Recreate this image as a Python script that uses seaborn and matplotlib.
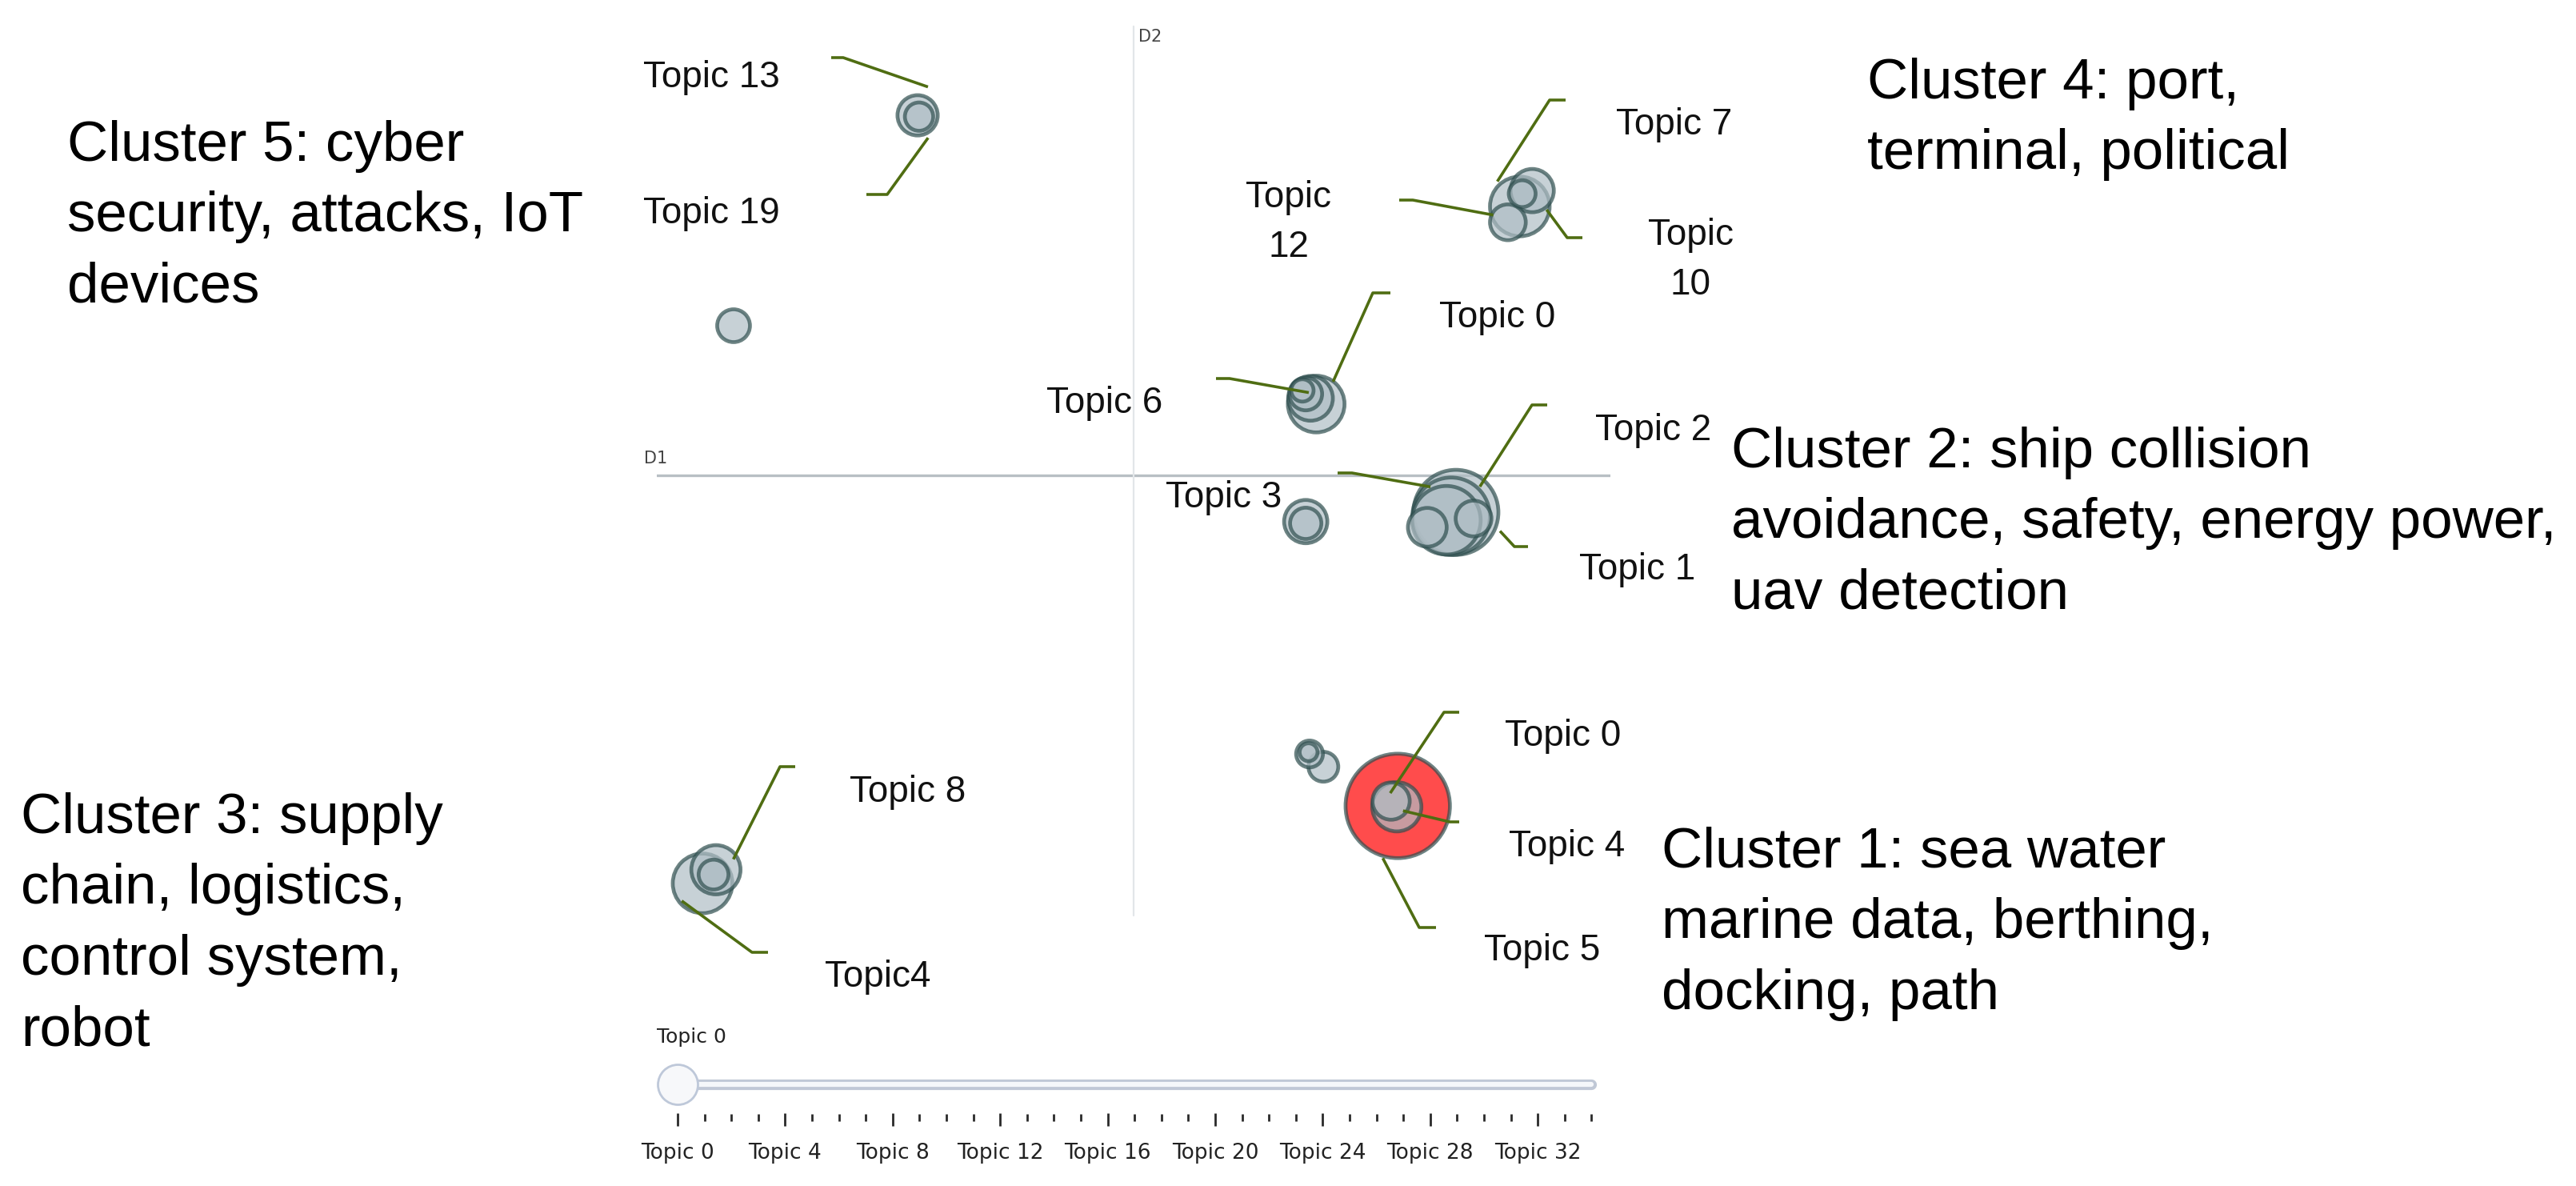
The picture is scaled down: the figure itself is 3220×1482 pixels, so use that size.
import numpy as np
import pandas as pd
import matplotlib.pyplot as plt
import seaborn as sns

# Intertopic distance map (BERTopic style) with cluster notes and topic slider

sns.set_theme(style="white")
plt.rcParams['font.family'] = ['Liberation Sans', 'DejaVu Sans']

# bubbles: position on D1 / D2 and topic size (bubble area)
d1 = [-0.453, -0.450, -0.839,
      0.810, 0.836, 0.785, 0.815,
      0.383, 0.371, 0.361, 0.354,
      0.361, 0.361,
      0.676, 0.666, 0.656, 0.616, 0.713,
      0.369, 0.398, 0.367,
      0.554, 0.552, 0.540,
      -0.904, -0.876, -0.881]
d2 = [0.818, 0.815, 0.340,
      0.611, 0.647, 0.575, 0.640,
      0.162, 0.175, 0.185, 0.193,
      -0.105, -0.109,
      -0.084, -0.093, -0.102, -0.118, -0.098,
      -0.633, -0.662, -0.629,
      -0.751, -0.753, -0.740,
      -0.927, -0.896, -0.907]
topic_size = [729, 361, 484,
              1600, 841, 576, 324,
              1444, 900, 484, 225,
              841, 441,
              3249, 2704, 2116, 676, 576,
              324, 400, 144,
              4900, 1089, 625,
              1600, 1089, 400]
is_selected = [False] * 21 + [True] + [False] * 5

# topic labels and the bubble each leader points to
label_text = ["Topic 13", "Topic 19", "Topic 7", "Topic\n12", "Topic\n10", "Topic 0",
              "Topic 6", "Topic 2", "Topic 3", "Topic 1", "Topic 0", "Topic 4",
              "Topic 5", "Topic 8", "Topic4"]
label_bubble = [0, 0, 3, 3, 4, 7, 7, 13, 13, 13, 23, 23, 21, 25, 24]

# cluster notes
cluster_text = ["Cluster 5: cyber\nsecurity, attacks, IoT\ndevices",
                "Cluster 4: port,\nterminal, political",
                "Cluster 2: ship collision\navoidance, safety, energy power,\nuav detection",
                "Cluster 3: supply\nchain, logistics,\ncontrol system,\nrobot",
                "Cluster 1: sea water\nmarine data, berthing,\ndocking, path"]

# slider
n_topics = 35
slider_labels = ["Topic 0", "Topic 4", "Topic 8", "Topic 12", "Topic 16",
                 "Topic 20", "Topic 24", "Topic 28", "Topic 32"]
slider_value = "Topic 0"

# ---------------- layout (pixels of the 3220 x 1482 output) ----------------
W, H = 3220, 1482
MAP_BOX = (821, 44, 2013, 1144)     # left, top, right, bottom of the D1/D2 map

label_xy = [(804, 92), (804, 262), (2020, 151), (1611, 278), (2113, 325), (1799, 392),
            (1308, 499), (1994, 533), (1457, 617), (1974, 707), (1881, 915), (1886, 1053),
            (1855, 1183), (1062, 985), (1031, 1216)]
label_two_line = [t.count("\n") > 0 for t in label_text]

# leader: horizontal tick start, elbow, then line to the bubble rim (angle, reach * r)
leader_tick = [1039, 1083, 1957, 1749, 1978, 1738, 1520, 1934, 1672, 1910, 1824, 1824, 1795, 994, 960]
leader_elbow = [(1054, 72), (1109, 243), (1937, 125), (1766, 250), (1959, 297), (1716, 366),
                (1537, 473), (1915, 506), (1690, 591), (1893, 683), (1805, 890), (1812, 1027),
                (1774, 1159), (975, 958), (940, 1190)]
leader_angle = [70, -65, 132, 198, -53, 53, 123, 47, 135, -23, 96, -39, -106, 31, -140]
leader_reach = [1.4, 1.15, 1.05, 0.87, 1.03, 0.92, 0.45, 0.77, 0.79, 1.05, 0.4, 0.77, 0.97, 0.77, 0.85]

cluster_xy = [(84, 150), (2334, 72), (2164, 533), (26, 990), (2077, 1033)]

LEADER = '#4f6d12'


def fig_frac(px, py):
    return px / W, 1 - py / H


def map_to_px(x, y):
    l, t, r, b = MAP_BOX
    return (l + r) / 2 + x * (r - l) / 2, (t + b) / 2 - y * (b - t) / 2


def px_to_map(px, py):
    l, t, r, b = MAP_BOX
    return (px - (l + r) / 2) / ((r - l) / 2), ((t + b) / 2 - py) / ((b - t) / 2)


fig = plt.figure(figsize=(W / 100, H / 100), dpi=100)
fig.patch.set_facecolor('white')

l, t, r, b = MAP_BOX
ax = fig.add_axes([l / W, 1 - b / H, (r - l) / W, (b - t) / H])

# D1 / D2 axis lines
ax.axhline(0, color='#B8BFC4', lw=2.4, zorder=1)
ax.plot([0, 0], [-1, 1.02], color='#E2E6E9', lw=1.6, zorder=1, clip_on=False)
fig.text(*fig_frac(805, 571), "D1", fontsize=15, color='#444444', family=['DejaVu Sans'],
         ha='left', va='center_baseline')
fig.text(*fig_frac(1423, 44), "D2", fontsize=15, color='#444444', family=['DejaVu Sans'],
         ha='left', va='center_baseline')

# bubbles, biggest first so the small ones sit on top
df = pd.DataFrame({'d1': d1, 'd2': d2, 'size': topic_size,
                   'state': np.where(is_selected, 'selected', 'other')})
df = df.sort_values('size', ascending=False)
area_per_size = 1.8
sns.scatterplot(data=df, x='d1', y='d2', hue='state', size='size',
                palette={'other': '#B0BEC5', 'selected': '#FF0000'},
                sizes=(df['size'].min() * area_per_size, df['size'].max() * area_per_size),
                size_norm=(df['size'].min(), df['size'].max()),
                alpha=0.7, edgecolor='#2F4F4F', linewidth=3.4, legend=False, ax=ax, zorder=3)
ax.set_xlim(-1, 1)
ax.set_ylim(-1, 1)
ax.axis('off')

# leaders and topic labels
for i, txt in enumerate(label_text):
    bi = label_bubble[i]
    cx, cy = map_to_px(d1[bi], d2[bi])
    rad = np.sqrt(topic_size[bi])
    a = np.radians(leader_angle[i])
    end = (cx + leader_reach[i] * rad * np.cos(a), cy - leader_reach[i] * rad * np.sin(a))
    ex, ey = leader_elbow[i]
    pts = [px_to_map(leader_tick[i], ey), px_to_map(ex, ey), px_to_map(*end)]
    xs, ys = zip(*pts)
    ax.plot(xs, ys, color=LEADER, lw=2.6, zorder=4, clip_on=False, solid_capstyle='butt')

    lx, ly = label_xy[i]
    if label_two_line[i]:
        fig.text(*fig_frac(lx, ly), txt, fontsize=33, color='#111111', ha='center',
                 va='center', multialignment='center', linespacing=1.52)
    else:
        fig.text(*fig_frac(lx, ly), txt, fontsize=33, color='#111111', ha='left',
                 va='center_baseline')

# cluster notes
for txt, (cx, cy) in zip(cluster_text, cluster_xy):
    fig.text(*fig_frac(cx, cy), txt, fontsize=51, color='#000000', ha='left', va='top',
             linespacing=1.44)

# slider under the map
SL_X0, SL_STEP = 847, 33.6
sax = fig.add_axes([l / W, 0, (r - l) / W, (H - 1262) / H])
sax.set_xlim((l - SL_X0) / SL_STEP, (r - SL_X0) / SL_STEP)
sax.set_ylim(H, 1262)
sax.axis('off')

idx = np.arange(n_topics)
sax.plot([idx[0], idx[-1]], [1355, 1355], color='#C0C8D6', lw=9.5, solid_capstyle='round', zorder=1)
sax.plot([idx[0], idx[-1]], [1355, 1355], color='#F5F7FA', lw=4.5, solid_capstyle='round', zorder=2)
sax.scatter([0], [1355], s=(2 * 25 * 0.72) ** 2, facecolor='#F7F8FA', edgecolor='#BEC8D9',
            linewidth=2.0, zorder=5)

major = [int(s.split()[-1]) for s in slider_labels]
minor = [i for i in idx if i not in major]
sax.vlines(minor, 1392, 1401, color='#2a2a2a', lw=2.0)
sax.vlines(major, 1391, 1407, color='#2a2a2a', lw=2.0)
for pos, txt in zip(major, slider_labels):
    sax.text(pos, 1438, txt, fontsize=19, color='#222222', family=['DejaVu Sans'],
             ha='center', va='center_baseline')
fig.text(*fig_frac(821, 1293), slider_value, fontsize=18, color='#222222',
         family=['DejaVu Sans'], ha='left', va='center_baseline')

fig.savefig('out.png', dpi=100, facecolor='white')
plt.close(fig)
